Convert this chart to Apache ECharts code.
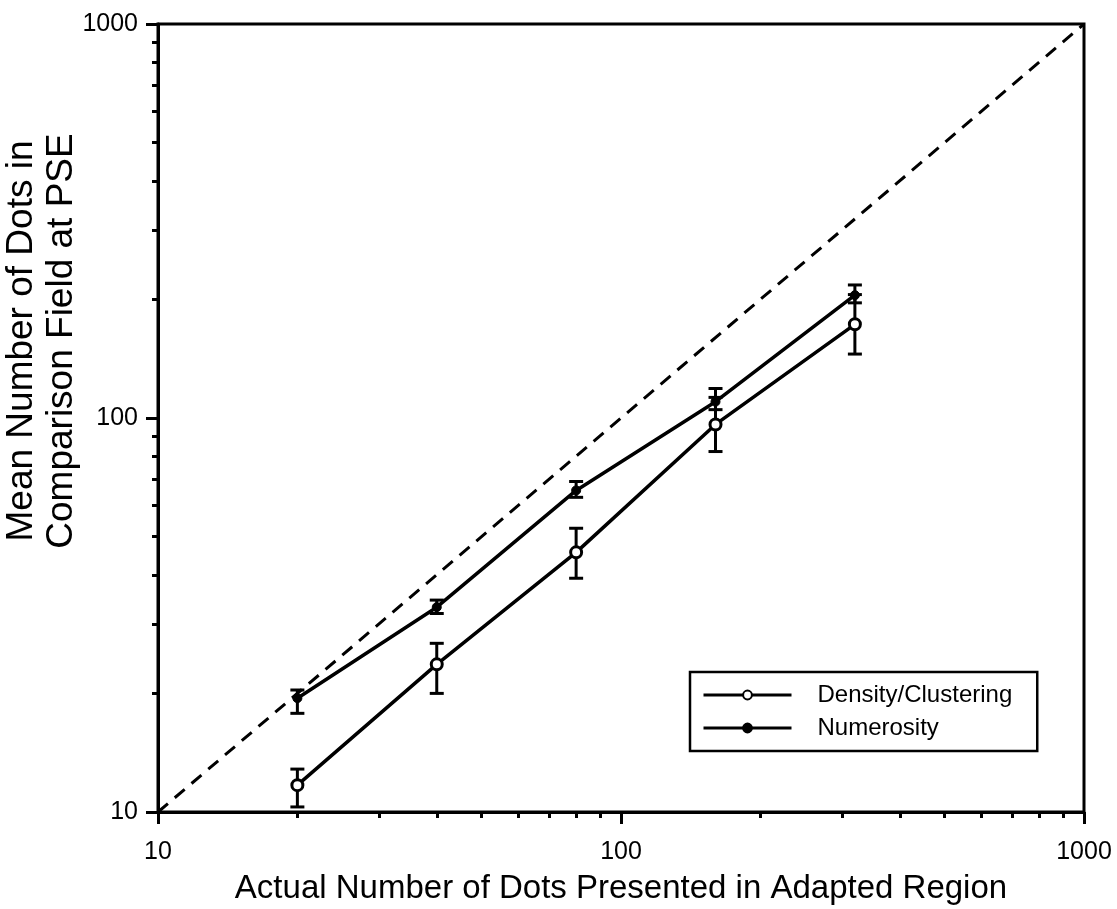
<!DOCTYPE html>
<html>
<head>
<meta charset="utf-8">
<script src="https://cdn.jsdelivr.net/npm/echarts@6/dist/echarts.min.js"></script>
<style>
html,body{margin:0;padding:0;background:#fff;}
#chart{width:1117px;height:909px;}
</style>
</head>
<body>
<div id="chart"></div>
<script>
// ---- data ----
const xValues = [20, 40, 80, 160, 320];
const densityMean = [11.7, 23.7, 45.6, 96.3, 172.9];
const densityLow = [10.3, 20.0, 39.2, 82.2, 145.3];
const densityHigh = [12.85, 26.8, 52.5, 112.8, 205.7];
const numerosityMean = [19.45, 33.1, 65.5, 110, 205];
const numerosityLow = [17.8, 31.9, 62.9, 105, 196];
const numerosityHigh = [20.4, 34.5, 69, 118.8, 217.6];
const identityLine = [10, 1000];
const majorTicks = [10, 100, 1000];
const minorTicks = [20, 30, 40, 50, 60, 70, 80, 90, 200, 300, 400, 500, 600, 700, 800, 900];
const xTitle = 'Actual Number of Dots Presented in Adapted Region';
const yTitleLines = ['Mean Number of Dots in', 'Comparison Field at PSE'];
const seriesNames = ['Density/Clustering', 'Numerosity'];

const FONT = 'Liberation Sans, Arial, Helvetica, sans-serif';
const chart = echarts.init(document.getElementById('chart'), null, {renderer: 'canvas'});

function errorSeries(low, high) {
  return {
    type: 'custom',
    silent: true,
    z: 5,
    data: xValues.map((x, i) => [x, low[i], high[i]]),
    renderItem: function (params, api) {
      const x = api.value(0);
      const lo = api.coord([x, api.value(1)]);
      const hi = api.coord([x, api.value(2)]);
      const cap = 7;
      const style = {stroke: '#000', lineWidth: 3, fill: null};
      return {
        type: 'group',
        children: [
          {type: 'line', shape: {x1: lo[0], y1: lo[1], x2: hi[0], y2: hi[1]}, style: style},
          {type: 'line', shape: {x1: lo[0] - cap, y1: lo[1], x2: lo[0] + cap, y2: lo[1]}, style: style},
          {type: 'line', shape: {x1: hi[0] - cap, y1: hi[1], x2: hi[0] + cap, y2: hi[1]}, style: style}
        ]
      };
    }
  };
}

const fmt = v => String(Math.round(v));

const axisCommon = {
  type: 'log',
  logBase: 10,
  min: 10,
  max: 1000,
  splitLine: {show: false},
  axisLine: {show: true, lineStyle: {color: '#000', width: 3}},
};

const option = {
  backgroundColor: '#fff',
  animation: false,
  grid: {left: 158, right: 33, top: 24, bottom: 97, show: true, borderColor: '#000', borderWidth: 3, backgroundColor: 'transparent'},
  xAxis: [
    Object.assign({}, axisCommon, {
      position: 'bottom',
      axisTick: {show: true, length: 6, inside: false, customValues: minorTicks, lineStyle: {color: '#000', width: 3}},
      axisLabel: {show: true, customValues: majorTicks, formatter: fmt, margin: 28, fontSize: 25, color: '#000', fontFamily: FONT}
    }),
    Object.assign({}, axisCommon, {
      position: 'bottom',
      axisLine: {show: false},
      axisTick: {show: true, length: 12, customValues: majorTicks, lineStyle: {color: '#000', width: 3}},
      axisLabel: {show: false}
    })
  ],
  yAxis: [
    Object.assign({}, axisCommon, {
      position: 'left',
      axisTick: {show: true, length: 6, inside: false, customValues: minorTicks, lineStyle: {color: '#000', width: 3}},
      axisLabel: {show: true, customValues: majorTicks, formatter: fmt, margin: 20, fontSize: 25, color: '#000', fontFamily: FONT}
    }),
    Object.assign({}, axisCommon, {
      position: 'left',
      axisLine: {show: false},
      axisTick: {show: true, length: 12, customValues: majorTicks, lineStyle: {color: '#000', width: 3}},
      axisLabel: {show: false}
    })
  ],
  legend: {
    show: true,
    data: seriesNames,
    left: 690,
    top: 672,
    orient: 'vertical',
    align: 'left',
    itemWidth: 88,
    itemHeight: 11,
    itemGap: 9,
    padding: [11, 25, 11, 12],
    borderColor: '#000',
    borderWidth: 2.5,
    backgroundColor: '#fff',
    lineStyle: {width: 3, color: '#000'},
    textStyle: {fontSize: 24, color: '#000', fontFamily: FONT, padding: [0, 0, 0, 21]}
  },
  series: [
    {
      type: 'line',
      name: 'identity',
      data: identityLine.map(v => [v, v]),
      showSymbol: false,
      symbol: 'none',
      silent: true,
      lineStyle: {color: '#000', width: 3, type: [13, 9]},
      z: 2
    },
    errorSeries(densityLow, densityHigh),
    errorSeries(numerosityLow, numerosityHigh),
    {
      type: 'line',
      name: seriesNames[0],
      data: xValues.map((x, i) => [x, densityMean[i]]),
      symbol: 'circle',
      symbolSize: 11,
      itemStyle: {color: '#fff', borderColor: '#000', borderWidth: 3},
      lineStyle: {color: '#000', width: 3.5},
      z: 6
    },
    {
      type: 'line',
      name: seriesNames[1],
      data: xValues.map((x, i) => [x, numerosityMean[i]]),
      symbol: 'circle',
      symbolSize: 9,
      itemStyle: {color: '#000', borderColor: '#000', borderWidth: 1},
      lineStyle: {color: '#000', width: 3.5},
      z: 6
    }
  ],
  graphic: [
    {
      type: 'text',
      x: 621,
      y: 889,
      style: {text: xTitle, fontSize: 33, fill: '#000', fontFamily: FONT, align: 'center', verticalAlign: 'middle'}
    },
    {
      type: 'text',
      x: 42,
      y: 341,
      rotation: Math.PI / 2,
      style: {text: yTitleLines.join('\n'), fontSize: 37, lineHeight: 40, fill: '#000', fontFamily: FONT, align: 'center', verticalAlign: 'middle'}
    }
  ]
};
chart.setOption(option);
</script>
</body>
</html>
